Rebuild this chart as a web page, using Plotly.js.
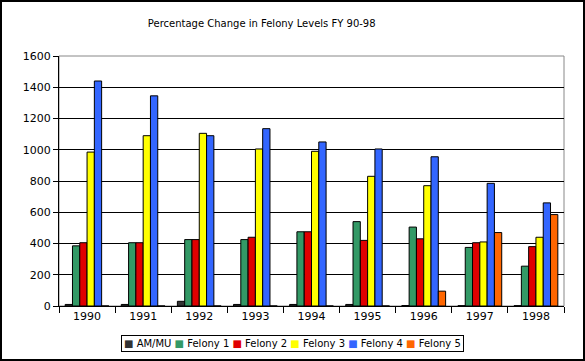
<!DOCTYPE html>
<html><head><meta charset="utf-8">
<script src="https://cdn.plot.ly/plotly-3.0.1.min.js"></script>
<style>
html,body{margin:0;padding:0;background:#fff;}
#frame{width:585px;height:361px;box-sizing:border-box;border:2px solid #000;}
#chart{width:581px;height:357px;}
</style></head>
<body><div id="frame"><div id="chart"></div></div>
<script>
const years = ['1990','1991','1992','1993','1994','1995','1996','1997','1998'];
const amMu    = [10, 10, 30, 10, 10, 10, 3, 2, 2];
const felony1 = [385, 405, 425, 425, 475, 540, 505, 375, 255];
const felony2 = [405, 405, 425, 440, 475, 420, 430, 405, 380];
const felony3 = [985, 1090, 1105, 1005, 990, 830, 770, 410, 440];
const felony4 = [1440, 1345, 1090, 1135, 1050, 1005, 955, 785, 660];
const felony5 = [0, 0, 0, 0, 0, 0, 95, 470, 585];
const seriesNames = ['AM/MU','Felony 1','Felony 2','Felony 3','Felony 4','Felony 5'];
const seriesValues = [amMu, felony1, felony2, felony3, felony4, felony5];
const seriesColors = ['#333333','#339966','#e00000','#ffff00','#3366ff','#ff6600'];

const traces = seriesNames.map((n,i)=>({
  type:'bar', name:n, x:years, y:seriesValues[i], showlegend:false,
  marker:{color:seriesColors[i], line:{color:'#000', width:1}}
}));

const legendText = seriesNames.map((n,i)=>
  '<span style="color:'+seriesColors[i]+'">■</span>\u00a0'+n).join('\u00a0');

const font = {family:'DejaVu Sans, sans-serif', size:11, color:'#000'};
const layout = {
  width:581, height:357,
  margin:{l:57, r:19, t:54, b:53},
  paper_bgcolor:'#fff', plot_bgcolor:'#fff',
  font:font,
  title:{text:'Percentage Change in Felony Levels FY 90-98', font:{family:'DejaVu Sans, sans-serif', size:10}, x:0.447, xanchor:'center', y:0.95, yanchor:'top'},
  barmode:'group', bargap:0.22, bargroupgap:0,
  xaxis:{type:'category', showline:true, linecolor:'#000', linewidth:1, ticks:'outside', tickson:'boundaries', ticklen:6, tickcolor:'#000', showgrid:false, tickfont:font},
  yaxis:{range:[0,1600], dtick:200, showline:true, linecolor:'#000', linewidth:1, ticks:'outside', ticklen:5, tickcolor:'#000', gridcolor:'#000', gridwidth:1, zeroline:false, tickfont:font},
  shapes:[{type:'rect', xref:'paper', yref:'paper', x0:0, x1:1, y0:0, y1:1, line:{color:'#888', width:1}, layer:'below'}],
  annotations:[{text:legendText, xref:'paper', yref:'paper', x:0.462, y:-0.118, xanchor:'center', yanchor:'top', showarrow:false, font:{family:'DejaVu Sans, sans-serif', size:10, color:'#000'}, bordercolor:'#000', borderwidth:1, borderpad:2, bgcolor:'#fff'}],
  showlegend:false
};
Plotly.newPlot('chart', traces, layout, {displayModeBar:false, staticPlot:true});
</script></body></html>
